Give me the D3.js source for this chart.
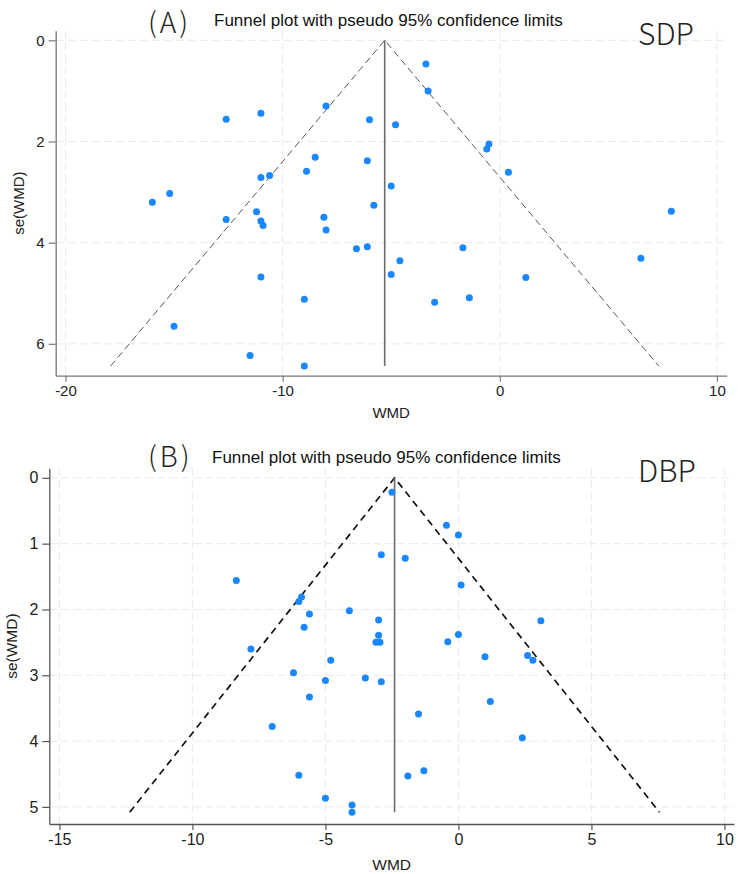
<!DOCTYPE html>
<html lang="en">
<head>
<meta charset="UTF-8">
<title>Funnel plots</title>
<style>
  * {padding:0; margin:0;}
  body {background:#fff;}
  svg {display:block;}
  .tick text {font-family:"Liberation Sans", Arial, sans-serif; fill:#222;}
  .axisTitle {font-family:"Liberation Sans", Arial, sans-serif; fill:#222; text-anchor:middle;}
  .plotTitle {font-family:"Liberation Sans", Arial, sans-serif; fill:#111; font-size:17px;}
  .tag {font-family:"Noto Sans CJK SC", "Noto Sans", sans-serif; font-weight:300; fill:#222; font-size:28px;}
</style>
</head>
<body>
<script src="https://cdn.jsdelivr.net/npm/d3@7"></script>
<script>
// panel A: SDP
var sdpWMD = [-12.6, -11.0, -8.0, -6.0, -8.5, -8.9, -6.1, -11.0, -10.6, -15.2, -16.0,
  -5.8, -12.6, -11.2, -11.0, -10.9, -8.1, -8.0, -6.6, -6.1, -11.0, -9.0, -15.0, -11.5, -9.0,
  -3.4, -3.3, -4.8, -0.5, -0.6, 0.4, -5.0, 7.9, -1.7, -4.6, -5.0, 6.5, 1.2, -3.0, -1.4];
var sdpSE = [1.56, 1.44, 1.30, 1.57, 2.31, 2.59, 2.38, 2.71, 2.67, 3.03, 3.20,
  3.26, 3.54, 3.39, 3.57, 3.66, 3.50, 3.75, 4.12, 4.08, 4.68, 5.12, 5.65, 6.23, 6.44,
  0.47, 1.00, 1.67, 2.05, 2.15, 2.61, 2.88, 3.38, 4.10, 4.36, 4.63, 4.31, 4.69, 5.18, 5.09];
var sdpPooled = -5.3;
var sdpXTicks = [-20, -10, 0, 10];
var sdpYTicks = [0, 2, 4, 6];

// panel B: DBP
var dbpWMD = [-8.35, -5.9, -6.0, -5.6, -5.8, -4.1, -3.0, -3.0, -3.1, -2.95, -7.8, -4.8,
  -6.2, -5.0, -3.5, -2.9, -5.6, -7.0, -6.0, -5.0, -4.0, -4.0, -2.9,
  -2.5, -0.45, 0.0, -2.0, 0.1, 3.1, 0.0, -0.4, 1.0, 2.6, 2.8, 1.2, -1.5, 2.4, -1.3, -1.9];
var dbpSE = [1.56, 1.81, 1.88, 2.07, 2.27, 2.02, 2.16, 2.39, 2.50, 2.50, 2.60, 2.77,
  2.96, 3.08, 3.04, 3.10, 3.33, 3.78, 4.52, 4.87, 4.97, 5.08, 1.17,
  0.22, 0.72, 0.87, 1.22, 1.63, 2.17, 2.38, 2.49, 2.72, 2.70, 2.77, 3.40, 3.59, 3.95, 4.45, 4.53];
var dbpPooled = -2.4;
var dbpXTicks = [-15, -10, -5, 0, 5, 10];
var dbpYTicks = [0, 1, 2, 3, 4, 5];

var svg = d3.select("body").append("svg")
  .attr("width", 739)
  .attr("height", 874);

// plain hyphen minus, no decimals
function tickFmt(d) { return String(d); }

function drawPanel(p) {
  var g = svg.append("g");
  var x = d3.scaleLinear().domain(p.xDomain).range([p.left, p.right]);
  var y = d3.scaleLinear().domain(p.yDomain).range([p.top, p.bottom]);

  // grid
  g.selectAll(".gx").data(p.xTicks).enter().append("line")
    .attr("x1", function(d){ return x(d); }).attr("x2", function(d){ return x(d); })
    .attr("y1", p.top).attr("y2", p.bottom)
    .attr("stroke", "#e9e9e9").attr("stroke-dasharray", "8,4");
  g.selectAll(".gy").data(p.yTicks).enter().append("line")
    .attr("x1", p.left).attr("x2", p.right)
    .attr("y1", function(d){ return y(d); }).attr("y2", function(d){ return y(d); })
    .attr("stroke", "#e9e9e9").attr("stroke-dasharray", "8,4");

  // axes
  var xAxis = g.append("g").attr("transform", "translate(0," + p.bottom + ")")
    .call(d3.axisBottom(x).tickValues(p.xTicks).tickFormat(tickFmt)
      .tickSize(6).tickSizeOuter(0).tickPadding(4));
  var yAxis = g.append("g").attr("transform", "translate(" + p.left + ",0)")
    .call(d3.axisLeft(y).tickValues(p.yTicks).tickFormat(tickFmt)
      .tickSize(7).tickSizeOuter(0).tickPadding(4));
  [xAxis, yAxis].forEach(function(a){
    a.select(".domain").attr("stroke", p.axisColor).attr("stroke-width", 1.3);
    a.selectAll(".tick line").attr("stroke", p.axisColor).attr("stroke-width", 1.2);
    a.selectAll(".tick text").style("font-size", p.tickFont + "px");
  });

  // funnel
  var seMax = d3.max(p.se);
  var funnel = [[p.pooled - 1.96 * seMax, seMax], [p.pooled, 0], [p.pooled + 1.96 * seMax, seMax]];
  g.append("path")
    .attr("d", d3.line().x(function(d){ return x(d[0]); }).y(function(d){ return y(d[1]); })(funnel))
    .attr("fill", "none")
    .attr("stroke", p.funnelColor)
    .attr("stroke-width", p.funnelWidth)
    .attr("stroke-dasharray", p.funnelDash);
  g.append("line")
    .attr("x1", x(p.pooled)).attr("x2", x(p.pooled))
    .attr("y1", y(0)).attr("y2", y(seMax))
    .attr("stroke", "#6b6b6b").attr("stroke-width", 1.6);

  // points
  g.selectAll("circle").data(p.wmd).enter().append("circle")
    .attr("cx", function(d){ return x(d); })
    .attr("cy", function(d, i){ return y(p.se[i]); })
    .attr("r", 3.5)
    .attr("fill", "#1a87ff");

  // texts
  g.append("text").attr("class", "axisTitle")
    .attr("x", (p.left + p.right) / 2).attr("y", p.xTitleY)
    .style("font-size", p.titleFont + "px").text("WMD");
  g.append("text").attr("class", "axisTitle")
    .attr("transform", "translate(" + p.yTitleX + "," + (p.top + p.bottom) / 2 + ") rotate(-90)")
    .style("font-size", p.titleFont + "px").text("se(WMD)");
  g.append("text").attr("class", "plotTitle")
    .attr("x", p.titleX).attr("y", p.titleY)
    .text("Funnel plot with pseudo 95% confidence limits");
  g.append("text").attr("class", "tag")
    .attr("x", 148).attr("y", p.tagY).attr("letter-spacing", 3)
    .text(p.tag);
  g.append("text").attr("class", "tag")
    .attr("x", 638).attr("y", p.nameY)
    .style("font-size", "30px")
    .text(p.name);
}

drawPanel({
  wmd: sdpWMD, se: sdpSE, pooled: sdpPooled, xTicks: sdpXTicks, yTicks: sdpYTicks,
  xDomain: [-20.45, 10.45], yDomain: [-0.19, 6.63],
  left: 55.7, right: 726.7, top: 30.7, bottom: 375.7,
  axisColor: "#777", tickFont: 15, titleFont: 15,
  funnelColor: "#555", funnelWidth: 1, funnelDash: "7,4",
  xTitleY: 418, yTitleX: 24, titleX: 214, titleY: 26,
  tag: "(A)", tagY: 33, name: "SDP", nameY: 45
});

drawPanel({
  wmd: dbpWMD, se: dbpSE, pooled: dbpPooled, xTicks: dbpXTicks, yTicks: dbpYTicks,
  xDomain: [-15.38, 10.36], yDomain: [-0.145, 5.26],
  left: 49.3, right: 734, top: 468.3, bottom: 824,
  axisColor: "#555", tickFont: 16, titleFont: 15.5,
  funnelColor: "#111", funnelWidth: 1.7, funnelDash: "7,5",
  xTitleY: 870, yTitleX: 17, titleX: 212, titleY: 463,
  tag: "(B)", tagY: 467, name: "DBP", nameY: 482
});
</script>
</body>
</html>
